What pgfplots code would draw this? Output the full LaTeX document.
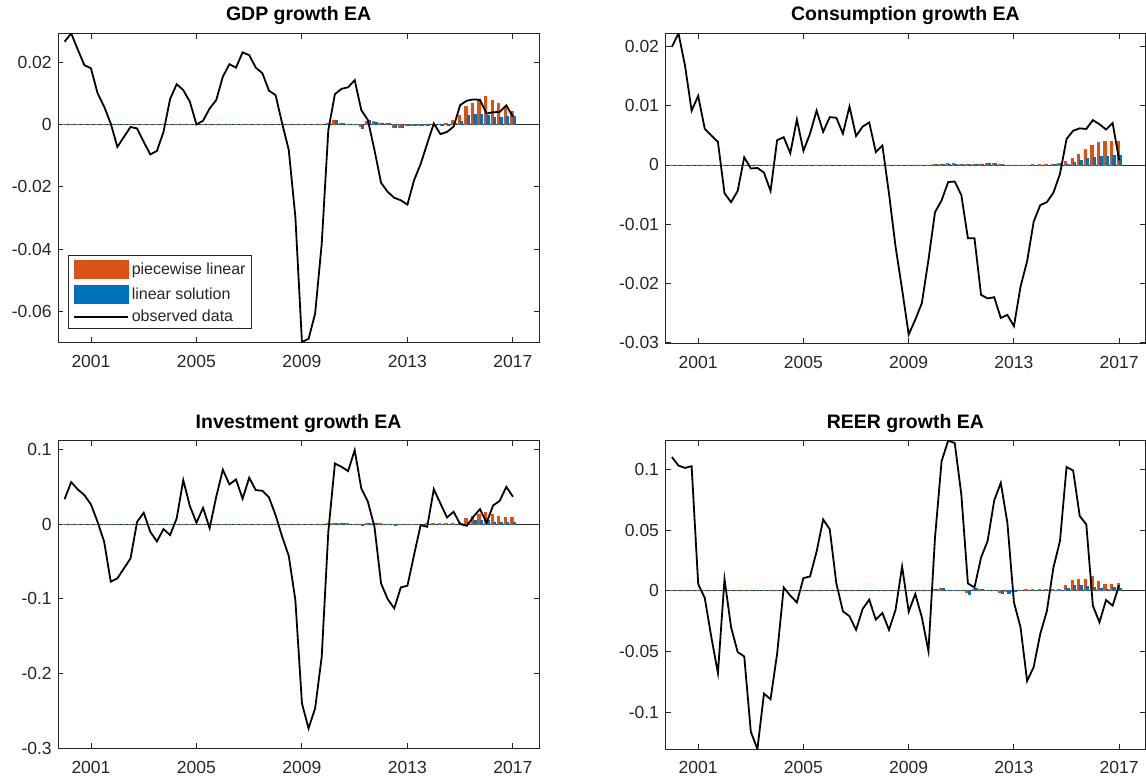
\documentclass[border=0pt]{standalone}
\usepackage{pgfplots}
\pgfplotsset{compat=1.18}
\usepackage{pgfplotstable}
\usepackage{fontspec}
\setmainfont{Liberation Sans}
\definecolor{pwor}{RGB}{217,83,25}
\definecolor{linbl}{RGB}{0,114,189}
\definecolor{axgray}{RGB}{38,38,38}

% x obs pw lin
\pgfplotstableread{
x obs pw lin
2000.00 0.0265 0 0
2000.25 0.0292 0 0
2000.50 0.0240 0 0
2000.75 0.0190 0 0
2001.00 0.0180 0 0
2001.25 0.0100 0 0
2001.50 0.0057 0 0
2001.75 0.0003 0 0
2002.00 -0.0072 0 0
2002.25 -0.0040 0 0
2002.50 -0.0008 0 0
2002.75 -0.0013 0 0
2003.00 -0.0056 0 0
2003.25 -0.0096 0 0
2003.50 -0.0085 0 0
2003.75 -0.0024 0 0
2004.00 0.0081 0 0
2004.25 0.0129 0 0
2004.50 0.0110 0 0
2004.75 0.0073 0 0
2005.00 0.0000 0 0
2005.25 0.0012 0 0
2005.50 0.0051 0 0
2005.75 0.0078 0 0
2006.00 0.0153 0 0
2006.25 0.0193 0 0
2006.50 0.0182 0 0
2006.75 0.0231 0 0
2007.00 0.0222 0 0
2007.25 0.0182 0 0
2007.50 0.0164 0 0
2007.75 0.0108 0 0
2008.00 0.0094 0 0
2008.25 0.0003 0 0
2008.50 -0.0082 0 0
2008.75 -0.0296 0 0
2009.00 -0.0697 0 0
2009.25 -0.0687 0 0
2009.50 -0.0606 0 0
2009.75 -0.0382 0 0
2010.00 -0.0018 0.0004 0.0005
2010.25 0.0097 0.0012 0.0014
2010.50 0.0114 0.0003 0.0003
2010.75 0.0119 0.0002 0.0002
2011.00 0.0142 0.0001 0.0001
2011.25 0.0046 -0.0005 -0.0012
2011.50 0.0014 0.0010 0.0013
2011.75 -0.0082 0.0010 0.0008
2012.00 -0.0187 0.0005 0.0005
2012.25 -0.0216 0.0004 0.0003
2012.50 -0.0235 -0.0008 -0.0010
2012.75 -0.0243 -0.0008 -0.0009
2013.00 -0.0257 -0.0003 -0.0004
2013.25 -0.0179 -0.0002 -0.0003
2013.50 -0.0127 -0.0002 -0.0003
2013.75 -0.0061 -0.0003 -0.0004
2014.00 0.0003 0.0000 -0.0002
2014.25 -0.0031 -0.0001 -0.0003
2014.50 -0.0024 0.0005 -0.0004
2014.75 -0.0007 0.0015 0.0003
2015.00 0.0062 0.0031 0.0011
2015.25 0.0076 0.0059 0.0030
2015.50 0.0080 0.0069 0.0032
2015.75 0.0079 0.0077 0.0032
2016.00 0.0035 0.0090 0.0029
2016.25 0.0039 0.0077 0.0023
2016.50 0.0040 0.0069 0.0022
2016.75 0.0061 0.0055 0.0025
2017.00 0.0025 0.0042 0.0026
}\gdp

\pgfplotstableread{
x obs pw lin
2000.00 0.0200 0 0
2000.25 0.0223 0 0
2000.50 0.0168 0 0
2000.75 0.0092 0 0
2001.00 0.0117 0 0
2001.25 0.0061 0 0
2001.50 0.0050 0 0
2001.75 0.0039 0 0
2002.00 -0.0048 0 0
2002.25 -0.0063 0 0
2002.50 -0.0044 0 0
2002.75 0.0013 0 0
2003.00 -0.0006 0 0
2003.25 -0.0005 0 0
2003.50 -0.0013 0 0
2003.75 -0.0044 0 0
2004.00 0.0042 0 0
2004.25 0.0047 0 0
2004.50 0.0020 0 0
2004.75 0.0077 0 0
2005.00 0.0024 0 0
2005.25 0.0053 0 0
2005.50 0.0092 0 0
2005.75 0.0056 0 0
2006.00 0.0081 0 0
2006.25 0.0080 0 0
2006.50 0.0053 0 0
2006.75 0.0099 0 0
2007.00 0.0049 0 0
2007.25 0.0065 0 0
2007.50 0.0072 0 0
2007.75 0.0022 0 0
2008.00 0.0033 0 0
2008.25 -0.0048 0 0
2008.50 -0.0138 0 0
2008.75 -0.0211 0 0
2009.00 -0.0287 0 0
2009.25 -0.0262 0 0
2009.50 -0.0234 0 0
2009.75 -0.0161 0 0
2010.00 -0.0080 0.0001 0.0001
2010.25 -0.0060 0.0002 0.0001
2010.50 -0.0029 0.0003 0.0002
2010.75 -0.0028 0.0003 0.0002
2011.00 -0.0051 0.0002 0.0002
2011.25 -0.0124 0.0001 0.0001
2011.50 -0.0124 0.0001 0.0001
2011.75 -0.0220 0.0002 0.0002
2012.00 -0.0226 0.0003 0.0003
2012.25 -0.0224 0.0003 0.0003
2012.50 -0.0259 0.0002 0.0001
2012.75 -0.0254 0.0000 0.0000
2013.00 -0.0273 -0.0001 -0.0001
2013.25 -0.0206 -0.0001 -0.0001
2013.50 -0.0163 0.0000 -0.0001
2013.75 -0.0096 0.0001 -0.0001
2014.00 -0.0068 0.0001 0.0000
2014.25 -0.0063 0.0002 0.0000
2014.50 -0.0047 0.0002 0.0001
2014.75 -0.0015 0.0003 0.0001
2015.00 0.0044 0.0006 0.0002
2015.25 0.0058 0.0011 0.0004
2015.50 0.0062 0.0018 0.0008
2015.75 0.0061 0.0026 0.0011
2016.00 0.0076 0.0033 0.0013
2016.25 0.0069 0.0038 0.0014
2016.50 0.0060 0.0040 0.0015
2016.75 0.0071 0.0040 0.0016
2017.00 0.0008 0.0040 0.0017
}\cons

\pgfplotstableread{
x obs pw lin
2000.00 0.0334 0 0
2000.25 0.0562 0 0
2000.50 0.0464 0 0
2000.75 0.0388 0 0
2001.00 0.0263 0 0
2001.25 0.0031 0 0
2001.50 -0.0236 0 0
2001.75 -0.0771 0 0
2002.00 -0.0727 0 0
2002.25 -0.0593 0 0
2002.50 -0.0459 0 0
2002.75 0.0031 0 0
2003.00 0.0152 0 0
2003.25 -0.0103 0 0
2003.50 -0.0232 0 0
2003.75 -0.0067 0 0
2004.00 -0.0147 0 0
2004.25 0.0076 0 0
2004.50 0.0589 0 0
2004.75 0.0241 0 0
2005.00 0.0018 0 0
2005.25 0.0218 0 0
2005.50 -0.0054 0 0
2005.75 0.0366 0 0
2006.00 0.0727 0 0
2006.25 0.0531 0 0
2006.50 0.0597 0 0
2006.75 0.0339 0 0
2007.00 0.0620 0 0
2007.25 0.0455 0 0
2007.50 0.0446 0 0
2007.75 0.0357 0 0
2008.00 0.0120 0 0
2008.25 -0.0169 0 0
2008.50 -0.0424 0 0
2008.75 -0.1016 0 0
2009.00 -0.2399 0 0
2009.25 -0.2733 0 0
2009.50 -0.2465 0 0
2009.75 -0.1774 0 0
2010.00 -0.0103 0.0005 0.0005
2010.25 0.0811 0.0010 0.0008
2010.50 0.0767 0.0008 0.0005
2010.75 0.0709 0.0005 0.0003
2011.00 0.0990 0.0003 0.0002
2011.25 0.0477 -0.0005 -0.0010
2011.50 0.0299 0.0005 0.0008
2011.75 -0.0036 0.0008 0.0006
2012.00 -0.0794 0.0005 0.0004
2012.25 -0.1003 0.0003 0.0002
2012.50 -0.1128 -0.0008 -0.0010
2012.75 -0.0847 -0.0006 -0.0008
2013.00 -0.0825 -0.0003 -0.0004
2013.25 -0.0415 -0.0002 -0.0003
2013.50 -0.0013 0.0000 -0.0002
2013.75 -0.0036 0.0010 -0.0002
2014.00 0.0468 0.0012 0.0000
2014.25 0.0276 0.0012 0.0001
2014.50 0.0089 0.0010 0.0001
2014.75 0.0165 0.0015 0.0002
2015.00 0.0000 0.0025 0.0005
2015.25 -0.0022 0.0076 0.0030
2015.50 0.0098 0.0110 0.0045
2015.75 0.0201 0.0134 0.0053
2016.00 0.0018 0.0152 0.0045
2016.25 0.0250 0.0134 0.0030
2016.50 0.0312 0.0110 0.0030
2016.75 0.0499 0.0089 0.0030
2017.00 0.0366 0.0089 0.0030
}\inv

\pgfplotstableread{
x obs pw lin
2000.00 0.1101 0 0
2000.25 0.1030 0 0
2000.50 0.1011 0 0
2000.75 0.1025 0 0
2001.00 0.0055 0 0
2001.25 -0.0060 0 0
2001.50 -0.0383 0 0
2001.75 -0.0678 0 0
2002.00 0.0096 0 0
2002.25 -0.0301 0 0
2002.50 -0.0505 0 0
2002.75 -0.0541 0 0
2003.00 -0.1161 0 0
2003.25 -0.1303 0 0
2003.50 -0.0847 0 0
2003.75 -0.0893 0 0
2004.00 -0.0519 0 0
2004.25 0.0027 0 0
2004.50 -0.0041 0 0
2004.75 -0.0096 0 0
2005.00 0.0104 0 0
2005.25 0.0117 0 0
2005.50 0.0322 0 0
2005.75 0.0587 0 0
2006.00 0.0505 0 0
2006.25 0.0060 0 0
2006.50 -0.0169 0 0
2006.75 -0.0210 0 0
2007.00 -0.0322 0 0
2007.25 -0.0150 0 0
2007.50 -0.0074 0 0
2007.75 -0.0238 0 0
2008.00 -0.0183 0 0
2008.25 -0.0322 0 0
2008.50 -0.0158 0 0
2008.75 0.0199 0 0
2009.00 -0.0172 0 0
2009.25 -0.0027 0 0
2009.50 -0.0219 0 0
2009.75 -0.0497 0 0
2010.00 0.0437 0.0010 0.0008
2010.25 0.1066 0.0022 0.0020
2010.50 0.1235 0.0005 0.0004
2010.75 0.1216 0.0003 0.0002
2011.00 0.0792 0.0002 0.0001
2011.25 0.0060 -0.0010 -0.0025
2011.50 0.0027 0.0015 0.0022
2011.75 0.0273 0.0010 0.0010
2012.00 0.0410 0.0005 0.0004
2012.25 0.0743 0.0003 0.0002
2012.50 0.0888 -0.0010 -0.0020
2012.75 0.0560 -0.0008 -0.0018
2013.00 -0.0096 -0.0002 -0.0005
2013.25 -0.0301 0.0005 0.0000
2013.50 -0.0743 0.0012 0.0001
2013.75 -0.0628 0.0012 0.0001
2014.00 -0.0355 0.0010 0.0001
2014.25 -0.0169 0.0008 0.0000
2014.50 0.0191 0.0008 0.0001
2014.75 0.0410 0.0014 0.0003
2015.00 0.1019 0.0041 0.0020
2015.25 0.0989 0.0090 0.0044
2015.50 0.0615 0.0096 0.0041
2015.75 0.0546 0.0098 0.0036
2016.00 -0.0123 0.0117 0.0027
2016.25 -0.0260 0.0077 0.0022
2016.50 -0.0077 0.0057 0.0016
2016.75 -0.0123 0.0050 0.0027
2017.00 0.0046 0.0063 0.0022
}\reer

\pgfplotsset{
  panel/.style={
    scale only axis, anchor=south west,
    xmin=1999.75, xmax=2018,
    xtick={2001,2005,2009,2013,2017},
    xticklabels={2001,2005,2009,2013,2017},
    scaled y ticks=false, scaled x ticks=false,
    tick align=inside, tick pos=both, major tick length=5.5pt,
    axis line style={axgray, line width=0.9pt},
    tick style={axgray, line width=0.9pt},
    ticklabel style={font=\fontsize{17.5}{20}\selectfont, text=axgray},
    xticklabel style={yshift=-9pt},
    yticklabel style={xshift=-2.8pt},
    title style={font=\bfseries\fontsize{19.5}{22}\selectfont, text=black, at={(0.5,1)}, anchor=base, yshift=6.5pt},
  },
  pwbar/.style={ybar, bar width=2.4pt, bar shift=-1.2pt, fill=pwor, draw=pwor, line width=0.5pt},
  linbar/.style={ybar, bar width=2.4pt, bar shift=1.2pt, fill=linbl, draw=linbl, line width=0.5pt},
  obsline/.style={black, line width=1.8pt, no marks},
  baseline/.style={axgray, line width=0.8pt, no marks, forget plot},
}

\begin{document}
\begin{tikzpicture}
\useasboundingbox (0,0) rectangle (1146pt,782pt);

% Top-left: GDP
\begin{axis}[panel, at={(58pt,439.7pt)}, width=481.3pt, height=309pt,
  ymin=-0.0698, ymax=0.0292,
  ytick={-0.06,-0.04,-0.02,0,0.02}, yticklabels={-0.06,-0.04,-0.02,0,0.02},
  title={GDP growth EA},
  legend style={at={(0,0)}, anchor=south west, xshift=10pt, yshift=13pt,
    font=\fontsize{16}{18}\selectfont, text=axgray, draw=axgray, line width=0.9pt,
    inner xsep=4.5pt, inner ysep=4.5pt, row sep=6pt, column sep=2pt,
    nodes={inner sep=1pt}, cells={anchor=west}},
  ]
\addplot[baseline] coordinates {(1999.75,0) (2018,0)};
\addplot[pwbar, legend image code/.code={\fill[pwor] (0pt,-9pt) rectangle (54pt,9pt);}] table[x=x,y=pw]{\gdp};
\addlegendentry{piecewise linear}
\addplot[linbar, legend image code/.code={\fill[linbl] (0pt,-9pt) rectangle (54pt,9pt);}] table[x=x,y=lin]{\gdp};
\addlegendentry{linear solution}
\addplot[obsline, legend image code/.code={\draw[black,line width=1.8pt] (0pt,0pt) -- (54pt,0pt);}] table[x=x,y=obs]{\gdp};
\addlegendentry{observed data}
\end{axis}

% Top-right: Consumption
\begin{axis}[panel, at={(665.3pt,438.7pt)}, width=480.2pt, height=310pt,
  ymin=-0.0302, ymax=0.0223,
  ytick={-0.03,-0.02,-0.01,0,0.01,0.02}, yticklabels={-0.03,-0.02,-0.01,0,0.01,0.02},
  title={Consumption growth EA},
  ]
\addplot[baseline] coordinates {(1999.75,0) (2018,0)};
\addplot[pwbar] table[x=x,y=pw]{\cons};
\addplot[linbar] table[x=x,y=lin]{\cons};
\addplot[obsline] table[x=x,y=obs]{\cons};
\end{axis}

% Bottom-left: Investment
\begin{axis}[panel, at={(58pt,33.7pt)}, width=481.3pt, height=307.6pt,
  ymin=-0.3, ymax=0.1116,
  ytick={-0.3,-0.2,-0.1,0,0.1}, yticklabels={-0.3,-0.2,-0.1,0,0.1},
  title={Investment growth EA},
  ]
\addplot[baseline] coordinates {(1999.75,0) (2018,0)};
\addplot[pwbar] table[x=x,y=pw]{\inv};
\addplot[linbar] table[x=x,y=lin]{\inv};
\addplot[obsline] table[x=x,y=obs]{\inv};
\end{axis}

% Bottom-right: REER
\begin{axis}[panel, at={(665.3pt,33pt)}, width=480.2pt, height=308.3pt,
  ymin=-0.1303, ymax=0.1235,
  ytick={-0.1,-0.05,0,0.05,0.1}, yticklabels={-0.1,-0.05,0,0.05,0.1},
  title={REER growth EA},
  ]
\addplot[baseline] coordinates {(1999.75,0) (2018,0)};
\addplot[pwbar] table[x=x,y=pw]{\reer};
\addplot[linbar] table[x=x,y=lin]{\reer};
\addplot[obsline] table[x=x,y=obs]{\reer};
\end{axis}
\end{tikzpicture}
\end{document}
